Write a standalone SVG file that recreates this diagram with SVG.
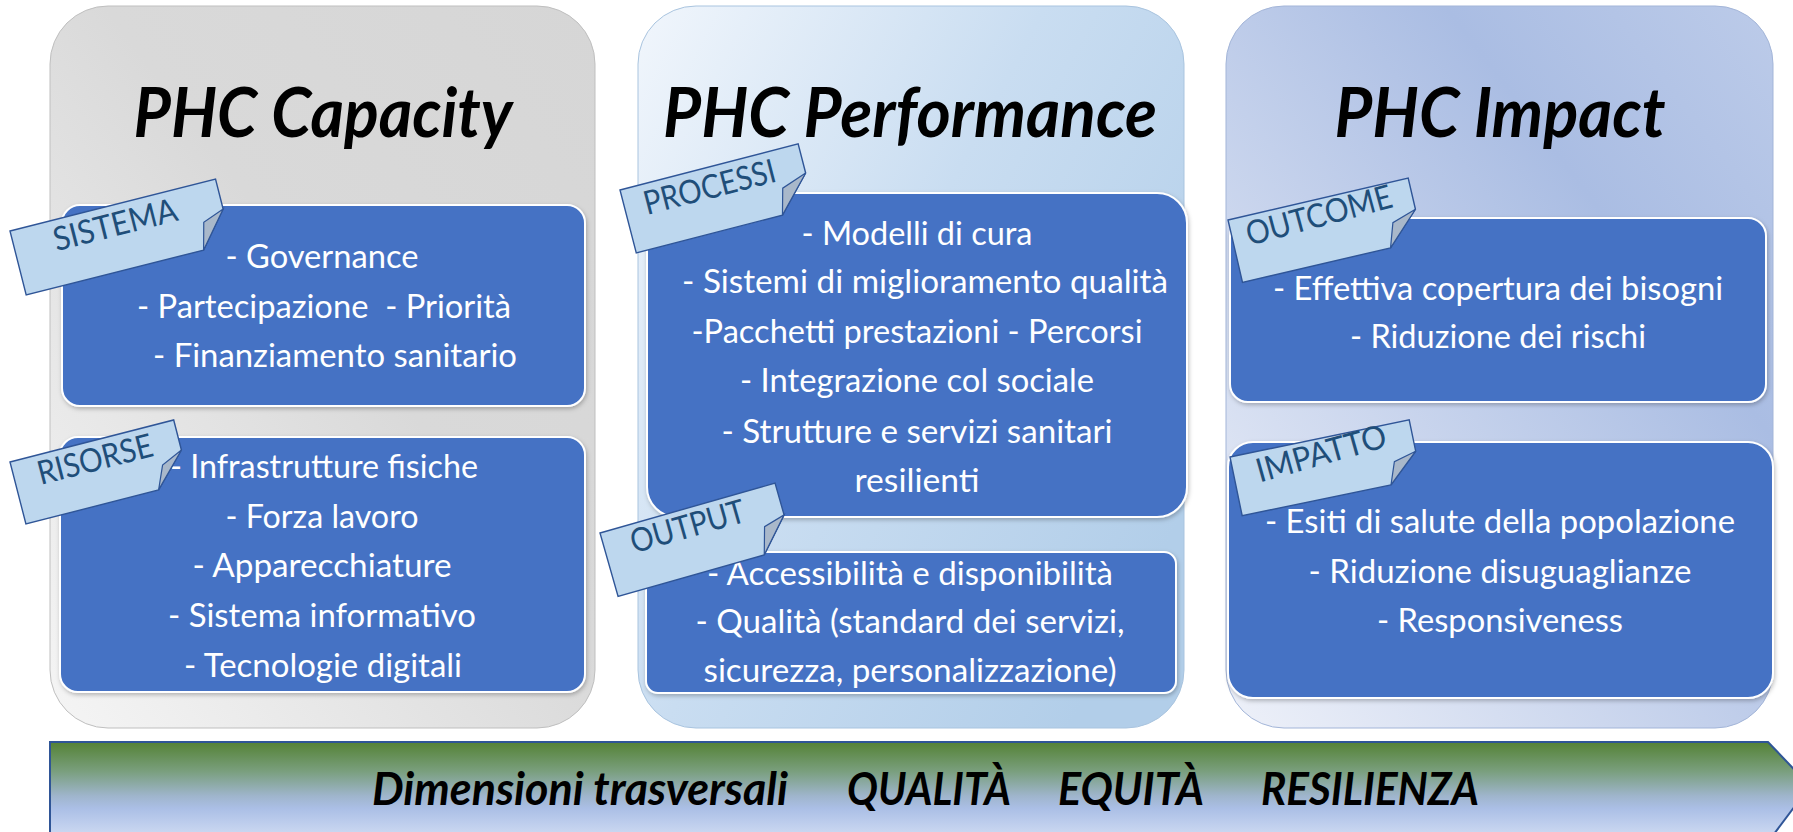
<svg xmlns="http://www.w3.org/2000/svg" width="1793" height="832" viewBox="0 0 1793 832">
<defs>
<linearGradient id="gCap" x1="0" y1="1" x2="1" y2="0">
<stop offset="0" stop-color="#f5f5f5"/><stop offset="0.55" stop-color="#d9d9d9"/><stop offset="1" stop-color="#d6d6d6"/>
</linearGradient>
<linearGradient id="gPerf" x1="0" y1="0" x2="1" y2="0.7">
<stop offset="0" stop-color="#f1f6fc"/><stop offset="0.5" stop-color="#c9ddf1"/><stop offset="1" stop-color="#b2cee9"/>
</linearGradient>
<linearGradient id="gImp" x1="0" y1="1" x2="1" y2="0">
<stop offset="0" stop-color="#eef1f9"/><stop offset="0.7" stop-color="#aabde3"/><stop offset="1" stop-color="#bccbe9"/>
</linearGradient>
<linearGradient id="gArrow" gradientUnits="userSpaceOnUse" x1="0" y1="742" x2="0" y2="840">
<stop offset="0" stop-color="#548235"/><stop offset="0.3" stop-color="#7a9f7e"/><stop offset="0.55" stop-color="#9fb5cc"/><stop offset="0.68" stop-color="#abbfe6"/><stop offset="1" stop-color="#d3def4"/>
</linearGradient>
<filter id="sh" x="-5%" y="-5%" width="110%" height="115%">
<feDropShadow dx="1" dy="2" stdDeviation="2" flood-color="#000" flood-opacity="0.25"/>
</filter>
<style>
.panel{stroke-width:1}
.box{fill:#4472c4;stroke:#ffffff;stroke-width:2;filter:url(#sh)}
.title{font-family:Lato,"Liberation Sans",sans-serif;font-weight:bold;font-style:italic;font-size:68px;fill:#000;text-anchor:middle}
.body{font-family:Lato,"Liberation Sans",sans-serif;font-size:32px;fill:#ffffff;text-anchor:middle}
.tag{fill:#bdd7ee;stroke:#2f5597;stroke-width:1.4}
.flap{fill:#a9b8ca;stroke:#2f5597;stroke-width:1.2}
.tagt{font-family:Lato,"Liberation Sans",sans-serif;font-size:33px;fill:#1f4e79}
.dim{font-family:Lato,"Liberation Sans",sans-serif;font-weight:bold;font-style:italic;font-size:45px;fill:#000}
</style>
</defs>

<g id="panel-capacity">
<rect class="panel" x="50" y="6" width="545" height="722" rx="58" fill="url(#gCap)" stroke="#bfbfbf"/>
<text class="title" x="323" y="137" textLength="379" lengthAdjust="spacingAndGlyphs">PHC Capacity</text>
</g>
<g id="box-sistema">
<rect class="box" x="62" y="205" width="523" height="201" rx="18"/>
<text class="body" x="322" y="268" textLength="193" lengthAdjust="spacingAndGlyphs">- Governance</text>
<text class="body" x="324" y="318" textLength="374" lengthAdjust="spacingAndGlyphs" xml:space="preserve">- Partecipazione  - Priorità</text>
<text class="body" x="335" y="367" textLength="364" lengthAdjust="spacingAndGlyphs">- Finanziamento sanitario</text>
</g>
<g id="box-risorse">
<rect class="box" x="60" y="437" width="525" height="255" rx="18"/>
<text class="body" x="324" y="478" textLength="308" lengthAdjust="spacingAndGlyphs">- Infrastrutture fisiche</text>
<text class="body" x="322" y="528" textLength="193" lengthAdjust="spacingAndGlyphs">- Forza lavoro</text>
<text class="body" x="322" y="577" textLength="259" lengthAdjust="spacingAndGlyphs">- Apparecchiature</text>
<text class="body" x="322" y="627" textLength="308" lengthAdjust="spacingAndGlyphs">- Sistema informativo</text>
<text class="body" x="323" y="677" textLength="278" lengthAdjust="spacingAndGlyphs">- Tecnologie digitali</text>
</g>

<g id="panel-performance">
<rect class="panel" x="638" y="6" width="546" height="722" rx="58" fill="url(#gPerf)" stroke="#a9c4df"/>
<text class="title" x="910" y="137" textLength="494" lengthAdjust="spacingAndGlyphs">PHC Performance</text>
</g>
<g id="box-processi">
<rect class="box" x="647" y="193" width="540" height="324" rx="30"/>
<text class="body" x="917" y="245" textLength="231" lengthAdjust="spacingAndGlyphs">- Modelli di cura</text>
<text class="body" x="925" y="293" textLength="486" lengthAdjust="spacingAndGlyphs">- Sistemi di miglioramento qualità</text>
<text class="body" x="917" y="343" textLength="451" lengthAdjust="spacingAndGlyphs">-Pacchetti prestazioni - Percorsi</text>
<text class="body" x="917" y="392" textLength="354" lengthAdjust="spacingAndGlyphs">- Integrazione col sociale</text>
<text class="body" x="917" y="443" textLength="391" lengthAdjust="spacingAndGlyphs">- Strutture e servizi sanitari</text>
<text class="body" x="917" y="492" textLength="125" lengthAdjust="spacingAndGlyphs">resilienti</text>
</g>
<g id="box-output">
<rect class="box" x="646" y="552" width="530" height="141" rx="12"/>
<text class="body" x="910" y="585" textLength="406" lengthAdjust="spacingAndGlyphs">- Accessibilità e disponibilità</text>
<text class="body" x="910" y="633" textLength="429" lengthAdjust="spacingAndGlyphs">- Qualità (standard dei servizi,</text>
<text class="body" x="910" y="682" textLength="413" lengthAdjust="spacingAndGlyphs">sicurezza, personalizzazione)</text>
</g>

<g id="panel-impact">
<rect class="panel" x="1226" y="6" width="547" height="722" rx="58" fill="url(#gImp)" stroke="#a3b5d8"/>
<text class="title" x="1500" y="137" textLength="331" lengthAdjust="spacingAndGlyphs">PHC Impact</text>
</g>
<g id="box-outcome">
<rect class="box" x="1230" y="218" width="536" height="184" rx="18"/>
<text class="body" x="1498" y="300" textLength="450" lengthAdjust="spacingAndGlyphs">- Effettiva copertura dei bisogni</text>
<text class="body" x="1498" y="348" textLength="296" lengthAdjust="spacingAndGlyphs">- Riduzione dei rischi</text>
</g>
<g id="box-impatto">
<rect class="box" x="1228" y="442" width="545" height="256" rx="25"/>
<text class="body" x="1500" y="533" textLength="470" lengthAdjust="spacingAndGlyphs">- Esiti di salute della popolazione</text>
<text class="body" x="1500" y="583" textLength="383" lengthAdjust="spacingAndGlyphs">- Riduzione disuguaglianze</text>
<text class="body" x="1500" y="632" textLength="246" lengthAdjust="spacingAndGlyphs">- Responsiveness</text>
</g>

<g id="tag-sistema" transform="translate(10,231) rotate(-14.2)">
<path class="tag" d="M0,0 H212 V31 L183,66 H0 Z"/>
<polygon class="flap" points="212,31 183,66 190,39"/>
<text class="tagt" x="40" y="31" textLength="127" lengthAdjust="spacingAndGlyphs">SISTEMA</text>
</g>
<g id="tag-risorse" transform="translate(10,462) rotate(-14.4)">
<path class="tag" d="M0,0 H169 V31 L137,64 H0 Z"/>
<polygon class="flap" points="169,31 137,64 147,41"/>
<text class="tagt" x="24" y="30" textLength="118" lengthAdjust="spacingAndGlyphs">RISORSE</text>
</g>
<g id="tag-processi" transform="translate(620,190) rotate(-14.5)">
<path class="tag" d="M0,0 H184 V30 L151,65 H0 Z"/>
<polygon class="flap" points="184,30 151,65 158,39"/>
<text class="tagt" x="20" y="31" textLength="135" lengthAdjust="spacingAndGlyphs">PROCESSI</text>
</g>
<g id="tag-output" transform="translate(600,533) rotate(-15.9)">
<path class="tag" d="M0,0 H182 V33 L152,66 H0 Z"/>
<polygon class="flap" points="182,33 152,66 160,39"/>
<text class="tagt" x="27" y="29" textLength="118" lengthAdjust="spacingAndGlyphs">OUTPUT</text>
</g>
<g id="tag-outcome" transform="translate(1228,220) rotate(-13.1)">
<path class="tag" d="M0,0 H185 V32 L152,64 H0 Z"/>
<polygon class="flap" points="185,32 152,64 160,40"/>
<text class="tagt" x="15" y="30" textLength="150" lengthAdjust="spacingAndGlyphs" transform="rotate(-2 15 30)">OUTCOME</text>
</g>
<g id="tag-impatto" transform="translate(1230,457) rotate(-11.7)">
<path class="tag" d="M0,0 H183 V32 L152,60 H0 Z"/>
<polygon class="flap" points="183,32 152,60 160,38"/>
<text class="tagt" x="24" y="31" textLength="134" lengthAdjust="spacingAndGlyphs" transform="rotate(-4 24 31)">IMPATTO</text>
</g>

<g id="crosscut-arrow">
<polygon points="50,742 1768,742 1810,786 1768,842 50,842" fill="url(#gArrow)" stroke="#2f5597" stroke-width="2"/>
<text class="dim" x="372" y="805" textLength="416" lengthAdjust="spacingAndGlyphs">Dimensioni trasversali</text>
<text class="dim" x="847" y="805" textLength="164" lengthAdjust="spacingAndGlyphs">QUALITÀ</text>
<text class="dim" x="1058" y="805" textLength="146" lengthAdjust="spacingAndGlyphs">EQUITÀ</text>
<text class="dim" x="1261" y="805" textLength="218" lengthAdjust="spacingAndGlyphs">RESILIENZA</text>
</g>
<g id="connectors"/>
</svg>
